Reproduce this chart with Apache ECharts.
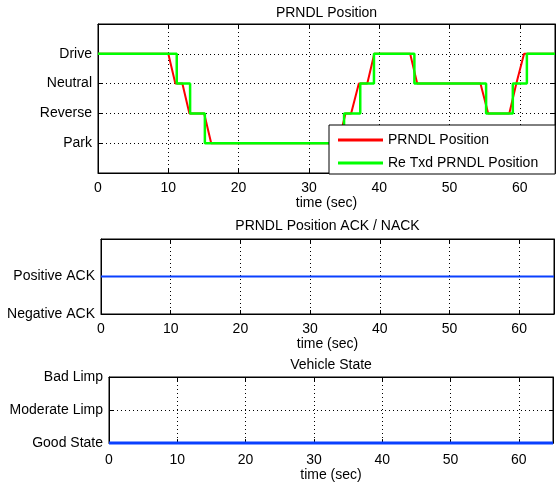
<!DOCTYPE html>
<html>
<head>
<meta charset="utf-8">
<script src="https://cdn.jsdelivr.net/npm/echarts@6/dist/echarts.min.js"></script>
<style>html,body{margin:0;padding:0;background:#fff;}#c{width:560px;height:483px;}</style>
</head>
<body>
<div id="c"></div>
<script>
// ---- data ----
const prndlTickLabels = ['', 'Park', 'Reverse', 'Neutral', 'Drive', ''];
const ackTickLabels = ['Negative ACK', 'Positive ACK', ''];
const stateTickLabels = ['Good State', 'Moderate Limp', 'Bad Limp'];
const xTickValues = [0, 10, 20, 30, 40, 50, 60];

const redTimes  = [0, 10.0, 11.0, 12.0, 13.0, 15.1, 16.1, 34.2, 35.2, 36.0, 37.1, 38.3, 39.3, 44.4, 45.4, 54.4, 55.5, 58.5, 59.5, 60.6, 65];
const redLevels = [4, 4,    3,    3,    2,    2,    1,    1,    2,    2,    3,    3,    4,    4,    3,    3,    2,    2,    3,    4,    4];

// change points of the re-transmitted signal (step)
const greenTimes  = [0, 11.2, 13.1, 15.2, 35.0, 37.3, 39.25, 45.0, 55.2, 59.0, 61.0, 65];
const greenLevels = [4, 3,    2,    1,    2,    3,    4,     3,    2,    3,    4,    4];

const ackTimes = [0, 65];
const ackValues = [1, 1];
const stateTimes = [0, 65];
const stateValues = [0, 0];

const seriesNames = ['PRNDL Position', 'Re Txd PRNDL Position'];
const titles = ['PRNDL Position', 'PRNDL Position ACK / NACK', 'Vehicle State'];
const xName = 'time (sec)';

// ---- chart ----
const zip = (a, b) => a.map((v, i) => [v, b[i]]);
const FONT = 'Liberation Sans, Arial, Helvetica, sans-serif';
const FS = 14;

const grids = [
  {left: 98, top: 24, width: 457, height: 149, nameGap: 19, labelMargin: 8},
  {left: 101, top: 239, width: 453, height: 75, nameGap: 21, labelMargin: 8},
  {left: 109, top: 377, width: 444, height: 73, nameGap: 18, labelMargin: 10}
];
const yLabelSets = [prndlTickLabels, ackTickLabels, stateTickLabels];

const axisLineStyle = {show: true, onZero: false, lineStyle: {color: '#000', width: 1}};
const tickStyle = {show: true, inside: true, length: 4, lineStyle: {color: '#000'}};

const xAxes = [], yAxes = [];
grids.forEach((g, i) => {
  xAxes.push({
    type: 'value', gridIndex: i, min: 0, max: 65, interval: 10, position: 'bottom',
    name: xName, nameLocation: 'middle', nameGap: g.nameGap,
    nameTextStyle: {color: '#000', fontSize: FS, fontFamily: FONT},
    axisLine: axisLineStyle, axisTick: tickStyle,
    axisLabel: {color: '#000', fontSize: FS, fontFamily: FONT, margin: g.labelMargin,
      formatter: v => xTickValues.indexOf(v) >= 0 ? String(v) : ''},
    splitLine: {show: true, lineStyle: {color: '#000', type: [1, 3], width: 1}}
  });
  xAxes.push({
    type: 'value', gridIndex: i, min: 0, max: 65, interval: 10, position: 'top',
    axisLine: axisLineStyle, axisTick: tickStyle,
    axisLabel: {show: false}, splitLine: {show: false}
  });
  const labels = yLabelSets[i];
  yAxes.push({
    type: 'value', gridIndex: i, min: 0, max: labels.length - 1, interval: 1, position: 'left',
    axisLine: axisLineStyle, axisTick: tickStyle,
    axisLabel: {color: '#000', fontSize: FS, fontFamily: FONT, margin: 6,
      formatter: v => labels[v] || ''},
    splitLine: {show: true, lineStyle: {color: '#000', type: [1, 3], width: 1}}
  });
  yAxes.push({
    type: 'value', gridIndex: i, min: 0, max: labels.length - 1, interval: 1, position: 'right',
    axisLine: axisLineStyle, axisTick: tickStyle,
    axisLabel: {show: false}, splitLine: {show: false}
  });
});

const titleTops = [6, 219, 358];
const option = {
  animation: false,
  backgroundColor: '#fff',
  title: titles.map((t, i) => ({
    text: t, left: grids[i].left + grids[i].width / 2, textAlign: 'center', top: titleTops[i], padding: 0,
    textStyle: {color: '#000', fontSize: FS, fontWeight: 'normal', fontFamily: FONT}
  })),
  grid: grids.map(g => ({left: g.left, top: g.top, width: g.width, height: g.height,
    show: true, borderColor: '#000', borderWidth: 1, backgroundColor: '#fff'})),
  xAxis: xAxes,
  yAxis: yAxes,
  legend: {
    data: seriesNames, orient: 'vertical', left: 329, top: 125,
    padding: [8, 17, 4, 9], itemGap: 9, itemWidth: 45, itemHeight: 3, icon: 'rect',
    backgroundColor: '#fff', borderColor: '#000', borderWidth: 1, borderRadius: 0,
    textStyle: {color: '#000', fontSize: FS, fontFamily: FONT}
  },
  series: [
    {name: seriesNames[0], type: 'line', xAxisIndex: 0, yAxisIndex: 0, data: zip(redTimes, redLevels),
      showSymbol: false, symbol: 'none', color: '#ff0000', lineStyle: {color: '#ff0000', width: 2}, z: 2},
    {name: seriesNames[1], type: 'line', xAxisIndex: 0, yAxisIndex: 0, data: zip(greenTimes, greenLevels),
      step: 'end', showSymbol: false, symbol: 'none', color: '#00ff00', lineStyle: {color: '#00ff00', width: 2.5}, z: 3},
    {name: 'ack', type: 'line', xAxisIndex: 2, yAxisIndex: 2, data: zip(ackTimes, ackValues),
      showSymbol: false, symbol: 'none', lineStyle: {color: '#0a40ff', width: 2}},
    {name: 'state', type: 'line', xAxisIndex: 4, yAxisIndex: 4, data: zip(stateTimes, stateValues),
      showSymbol: false, symbol: 'none', clip: false, lineStyle: {color: '#0a40ff', width: 3}}
  ]
};
const chart = echarts.init(document.getElementById('c'), null, {renderer: 'canvas'});
chart.setOption(option);
</script>
</body>
</html>
